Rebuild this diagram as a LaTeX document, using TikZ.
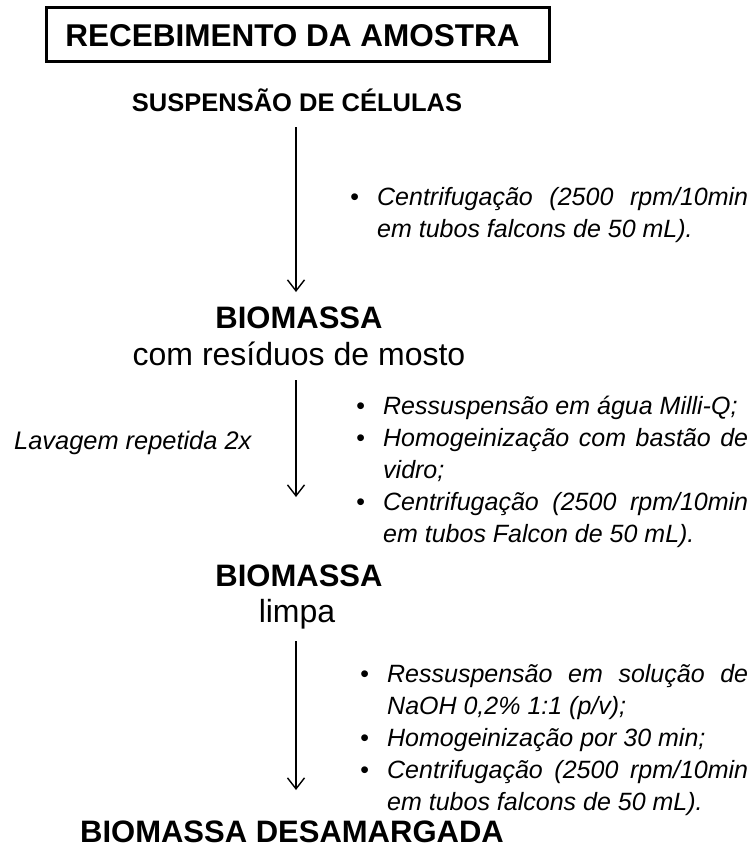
\documentclass[tikz,border=0pt]{standalone}
\usepackage{fontspec}
\setmainfont{Liberation Sans}
\usetikzlibrary{arrows.meta,calc}
\newcommand{\bitem}[1]{\par\hangindent=27pt\hangafter=1\noindent\hbox to 27pt{\textbullet\hfil}#1}
\begin{document}
\begin{tikzpicture}[x=1pt,y=-1pt,
  titlebox/.style={draw, line width=3pt, minimum width=503pt, minimum height=54pt, inner sep=0pt},
  titletext/.style={font=\bfseries\fontsize{31.5}{36}\selectfont, inner sep=0pt, anchor=base},
  small/.style={font=\bfseries\fontsize{25.5}{30}\selectfont, inner sep=0pt, anchor=base},
  big/.style={font=\bfseries\fontsize{31}{36}\selectfont, inner sep=0pt, anchor=base},
  sub/.style={font=\fontsize{32}{36}\selectfont, inner sep=0pt, anchor=base},
  note/.style={font=\itshape\fontsize{25.4}{32}\selectfont, inner sep=0pt, anchor=base west},
  bullets/.style={font=\itshape\fontsize{25}{32}\selectfont, inner sep=0pt, align=justify, anchor=north west},
  arr/.style={line width=1.4pt, -{Straight Barb[length=11pt,width=17pt,line width=1.4pt]}}
]
\useasboundingbox (0,0) rectangle (755,863);
\fill[white] (0,0) rectangle (755,863);
\node[titlebox] (title) at (297.5,34) {};
\node[titletext] (titlet) at (292.5,46.5) {RECEBIMENTO DA AMOSTRA};
\node[small] (susp) at (297,111) {SUSPENSÃO DE CÉLULAS};
\node[big] (bio1) at (299,328) {BIOMASSA};
\node[sub] (com) at (299,365) {com resíduos de mosto};
\node[big] (bio2) at (299,586) {BIOMASSA};
\node[sub] (limpa) at (297,622) {limpa};
\node[big] (bio3) at (292,842) {BIOMASSA DESAMARGADA};
\node[note] (lav) at (14,449) {Lavagem repetida 2x};
\node[bullets, text width=398pt] (b1) at (350,173) {\bitem{\rule{0pt}{20pt}Centrifugação (2500 rpm/10min\linebreak em tubos falcons de 50 mL).}\par};
\node[bullets, text width=392pt] (b2) at (356,382) {\bitem{\rule{0pt}{20pt}Ressuspensão em água Milli-Q;}\bitem{Homogeinização com bastão de\linebreak vidro;}\bitem{Centrifugação (2500 rpm/10min\linebreak em tubos Falcon de 50 mL).}\par};
\node[bullets, text width=388pt] (b3) at (360,650) {\bitem{\rule{0pt}{20pt}Ressuspensão em solução de\linebreak NaOH 0,2\% 1:1 (p/v);}\bitem{Homogeinização por 30 min;}\bitem{Centrifugação (2500 rpm/10min\linebreak em tubos falcons de 50 mL).}\par};
\coordinate (a1s) at (296,127); \coordinate (a1e) at (296,292);
\coordinate (a2s) at (296,380); \coordinate (a2e) at (296,497);
\coordinate (a3s) at (296,641); \coordinate (a3e) at (296,790);
\draw[arr] (a1s) -- (a1e);
\draw[arr] (a2s) -- (a2e);
\draw[arr] (a3s) -- (a3e);
\end{tikzpicture}
\end{document}
